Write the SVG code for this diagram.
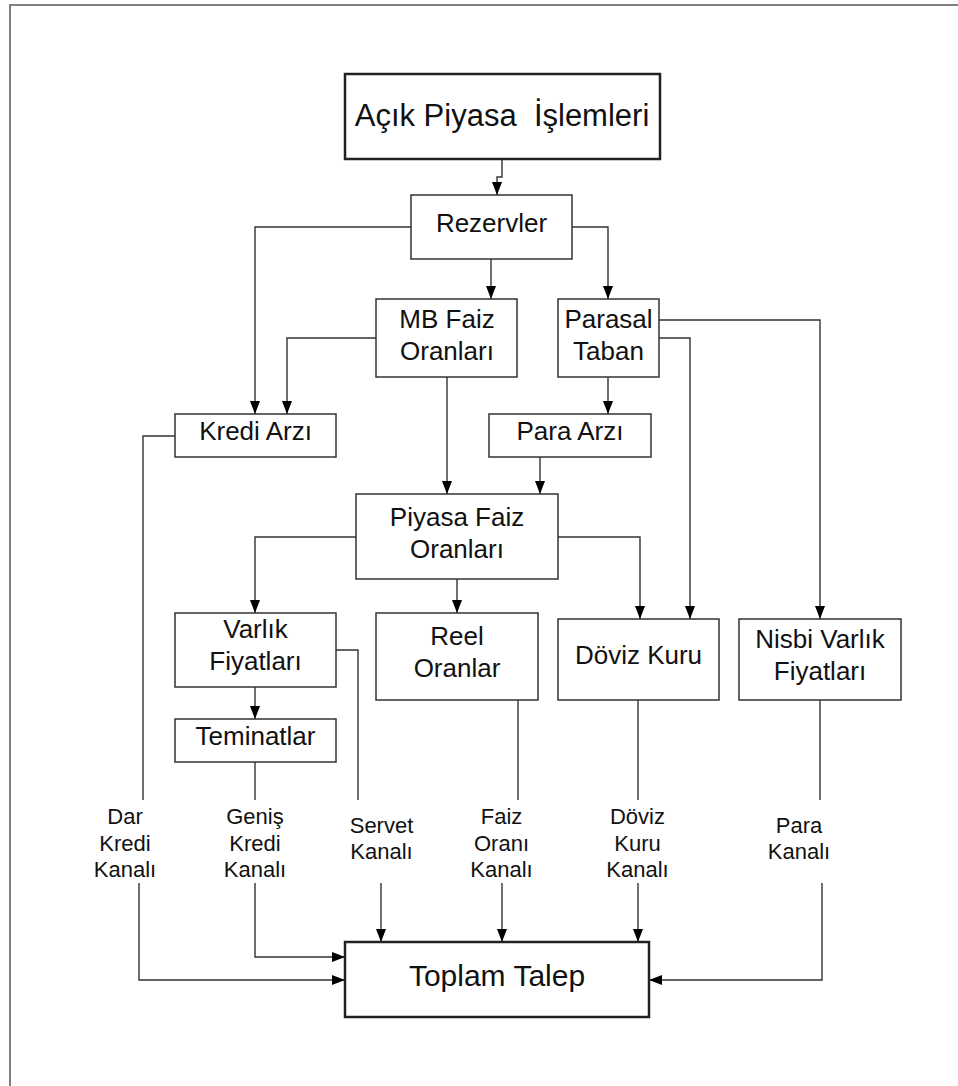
<svg xmlns="http://www.w3.org/2000/svg" width="958" height="1086" viewBox="0 0 958 1086">
<defs>
<marker id="ah" markerUnits="userSpaceOnUse" markerWidth="13" markerHeight="10" refX="13" refY="5" orient="auto">
<path d="M0,0 L13,5 L0,10 z" fill="#000"/>
</marker>
<style>
.box{fill:#fff;stroke:#333;stroke-width:1.5}
.bigbox{fill:#fff;stroke:#222;stroke-width:2.5}
.t{font-family:"Liberation Sans",Arial,sans-serif;font-size:26px;fill:#111;text-anchor:middle}
.lbl{font-family:"Liberation Sans",Arial,sans-serif;font-size:22px;fill:#111;text-anchor:middle}
.c{fill:none;stroke:#333;stroke-width:1.4}
.a{marker-end:url(#ah)}
</style>
</defs>
<rect width="958" height="1086" fill="#fff"/>
<path d="M10,1086 V5 H958" fill="none" stroke="#808080" stroke-width="2"/>

<g id="connectors">
<path class="c a" d="M502,159 V177 H497 V195"/>
<path class="c a" d="M411,227 H255 V414"/>
<path class="c a" d="M491,259 V299"/>
<path class="c a" d="M572,227 H608 V299"/>
<path class="c a" d="M376,338 H287 V414"/>
<path class="c a" d="M608,377 V414"/>
<path class="c a" d="M447,377 V494"/>
<path class="c a" d="M540,457 V494"/>
<path class="c a" d="M659,338 H690 V619"/>
<path class="c a" d="M659,320 H820 V619"/>
<path class="c a" d="M356,537 H255 V613"/>
<path class="c a" d="M457,579 V613"/>
<path class="c a" d="M558,537 H640 V619"/>
<path class="c a" d="M255,687 V719"/>
<path class="c" d="M175,436 H143 V800"/>
<path class="c" d="M255,762 V800"/>
<path class="c" d="M336,650 H358 V800"/>
<path class="c" d="M518,700 V800"/>
<path class="c" d="M638,700 V800"/>
<path class="c" d="M820,700 V800"/>
<path class="c a" d="M139,883 V980 H345"/>
<path class="c a" d="M255,883 V957 H345"/>
<path class="c a" d="M381,883 V942"/>
<path class="c a" d="M502,883 V942"/>
<path class="c a" d="M638,883 V942"/>
<path class="c a" d="M822,883 V980 H649"/>
</g>

<g id="acik">
<rect class="bigbox" x="345" y="74" width="315" height="85"/>
<text class="t" x="502" y="126" style="font-size:31px" xml:space="preserve">Açık Piyasa  İşlemleri</text>
</g>
<g id="rezervler">
<rect class="box" x="411" y="195" width="161" height="64"/>
<text class="t" x="491.5" y="232">Rezervler</text>
</g>
<g id="mbfaiz">
<rect class="box" x="376" y="299" width="141" height="78"/>
<text class="t" x="447" y="327.5">MB Faiz</text>
<text class="t" x="447" y="360">Oranları</text>
</g>
<g id="parasal">
<rect class="box" x="558" y="299" width="101" height="78"/>
<text class="t" x="608.5" y="327.5">Parasal</text>
<text class="t" x="608.5" y="360">Taban</text>
</g>
<g id="kredi">
<rect class="box" x="175" y="414" width="161" height="43"/>
<text class="t" x="255.5" y="440">Kredi Arzı</text>
</g>
<g id="paraarzi">
<rect class="box" x="489" y="414" width="162" height="43"/>
<text class="t" x="570" y="440">Para Arzı</text>
</g>
<g id="piyasa">
<rect class="box" x="356" y="494" width="202" height="85"/>
<text class="t" x="457" y="525.5">Piyasa Faiz</text>
<text class="t" x="457" y="557.5">Oranları</text>
</g>
<g id="varlik">
<rect class="box" x="175" y="613" width="161" height="74"/>
<text class="t" x="255.5" y="638">Varlık</text>
<text class="t" x="255.5" y="670">Fiyatları</text>
</g>
<g id="reel">
<rect class="box" x="376" y="613" width="162" height="87"/>
<text class="t" x="457" y="645">Reel</text>
<text class="t" x="457" y="676.5">Oranlar</text>
</g>
<g id="doviz">
<rect class="box" x="558" y="619" width="161" height="81"/>
<text class="t" x="638.5" y="664">Döviz Kuru</text>
</g>
<g id="nisbi">
<rect class="box" x="739" y="619" width="162" height="81"/>
<text class="t" x="820" y="648">Nisbi Varlık</text>
<text class="t" x="820" y="680">Fiyatları</text>
</g>
<g id="teminatlar">
<rect class="box" x="175" y="719" width="161" height="43"/>
<text class="t" x="255.5" y="745">Teminatlar</text>
</g>
<g id="toplam">
<rect class="bigbox" x="345" y="942" width="304" height="75"/>
<text class="t" x="497" y="986" style="font-size:30px">Toplam Talep</text>
</g>

<g id="labels">
<text class="lbl" x="125" y="824">Dar</text>
<text class="lbl" x="125" y="850.5">Kredi</text>
<text class="lbl" x="125" y="877">Kanalı</text>
<text class="lbl" x="255" y="824">Geniş</text>
<text class="lbl" x="255" y="850.5">Kredi</text>
<text class="lbl" x="255" y="877">Kanalı</text>
<text class="lbl" x="381.5" y="832.5">Servet</text>
<text class="lbl" x="381.5" y="859">Kanalı</text>
<text class="lbl" x="501.5" y="824">Faiz</text>
<text class="lbl" x="501.5" y="850.5">Oranı</text>
<text class="lbl" x="501.5" y="877">Kanalı</text>
<text class="lbl" x="637.5" y="824">Döviz</text>
<text class="lbl" x="637.5" y="850.5">Kuru</text>
<text class="lbl" x="637.5" y="877">Kanalı</text>
<text class="lbl" x="799" y="832.5">Para</text>
<text class="lbl" x="799" y="859">Kanalı</text>
</g>
</svg>
